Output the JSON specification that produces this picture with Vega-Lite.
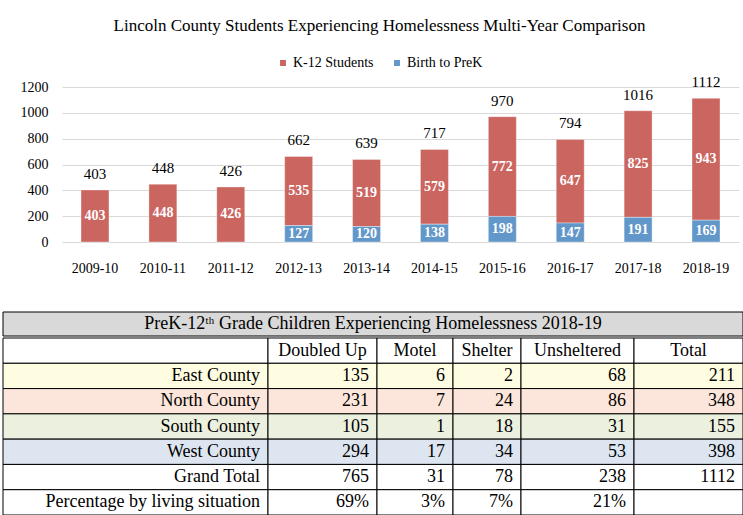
{
  "$schema": "https://vega.github.io/schema/vega-lite/v6.json",
  "padding": {"left": 2, "top": 17, "right": 0, "bottom": 0},
  "background": "white",
  "config": {
    "view": {"stroke": null},
    "font": "Liberation Serif",
    "text": {"font": "Liberation Serif"}
  },
  "datasets": {
    "bars": [
      {"year": "2009-10", "group": "K-12 Students", "value": 403},
      {"year": "2010-11", "group": "K-12 Students", "value": 448},
      {"year": "2011-12", "group": "K-12 Students", "value": 426},
      {"year": "2012-13", "group": "K-12 Students", "value": 535},
      {"year": "2012-13", "group": "Birth to PreK", "value": 127},
      {"year": "2013-14", "group": "K-12 Students", "value": 519},
      {"year": "2013-14", "group": "Birth to PreK", "value": 120},
      {"year": "2014-15", "group": "K-12 Students", "value": 579},
      {"year": "2014-15", "group": "Birth to PreK", "value": 138},
      {"year": "2015-16", "group": "K-12 Students", "value": 772},
      {"year": "2015-16", "group": "Birth to PreK", "value": 198},
      {"year": "2016-17", "group": "K-12 Students", "value": 647},
      {"year": "2016-17", "group": "Birth to PreK", "value": 147},
      {"year": "2017-18", "group": "K-12 Students", "value": 825},
      {"year": "2017-18", "group": "Birth to PreK", "value": 191},
      {"year": "2018-19", "group": "K-12 Students", "value": 943},
      {"year": "2018-19", "group": "Birth to PreK", "value": 169}
    ],
    "table": [
      {"row": "Header", "label": "", "doubled": "Doubled Up", "motel": "Motel", "shelter": "Shelter", "unsheltered": "Unsheltered", "total": "Total"},
      {"row": "East County", "label": "East County", "doubled": "135", "motel": "6", "shelter": "2", "unsheltered": "68", "total": "211"},
      {"row": "North County", "label": "North County", "doubled": "231", "motel": "7", "shelter": "24", "unsheltered": "86", "total": "348"},
      {"row": "South County", "label": "South County", "doubled": "105", "motel": "1", "shelter": "18", "unsheltered": "31", "total": "155"},
      {"row": "West County", "label": "West County", "doubled": "294", "motel": "17", "shelter": "34", "unsheltered": "53", "total": "398"},
      {"row": "Grand Total", "label": "Grand Total", "doubled": "765", "motel": "31", "shelter": "78", "unsheltered": "238", "total": "1112"},
      {"row": "Percentage", "label": "Percentage by living situation", "doubled": "69%", "motel": "3%", "shelter": "7%", "unsheltered": "21%", "total": ""}
    ],
    "tabletitle": [
      {"title": "PreK-12ᵗʰ Grade Children Experiencing Homelessness 2018-19"}
    ]
  },
  "resolve": {"scale": {"color": "independent", "fill": "independent"}},
  "spacing": 36,
  "vconcat": [
    {
      "width": 677,
      "height": 155,
      "title": {
        "text": "Lincoln County Students Experiencing Homelessness Multi-Year Comparison",
        "font": "Liberation Serif",
        "fontSize": 17,
        "fontWeight": "normal",
        "color": "black",
        "anchor": "middle",
        "dx": -21,
        "offset": 21
      },
      "data": {"name": "bars"},
      "transform": [
        {"stack": "value", "groupby": ["year"], "sort": [{"field": "group", "order": "ascending"}], "as": ["v0", "v1"]}
      ],
      "encoding": {
        "x": {
          "field": "year", "type": "ordinal",
          "scale": {"paddingInner": 0.588, "paddingOuter": 0.28},
          "axis": {"title": null, "labelAngle": 0, "labelFont": "Liberation Serif", "labelFontSize": 14, "labelColor": "black", "ticks": false, "domain": false, "labelPadding": 19}
        }
      },
      "layer": [
        {
          "mark": {"type": "bar", "stroke": "white", "strokeOpacity": 0.35, "strokeWidth": 1},
          "encoding": {
            "y": {"field": "v1", "type": "quantitative", "scale": {"domain": [0, 1200], "nice": false},
              "axis": {"title": null, "values": [0, 200, 400, 600, 800, 1000, 1200], "tickCount": 7, "format": "d", "labelOverlap": false, "labelFont": "Liberation Serif", "labelFontSize": 14, "labelColor": "black", "ticks": false, "domain": false, "gridColor": "#D9D9D9", "gridWidth": 1, "labelPadding": 14, "minExtent": 59}},
            "y2": {"field": "v0"},
            "color": {
              "field": "group", "type": "nominal",
              "scale": {"domain": ["K-12 Students", "Birth to PreK"], "range": ["#CB6560", "#6297CA"]},
              "legend": {"title": null, "orient": "none", "direction": "horizontal", "legendX": 214, "legendY": -31, "symbolType": "square", "symbolSize": 55, "labelFont": "Liberation Serif", "labelFontSize": 14, "labelColor": "black", "columnPadding": 16, "labelOffset": 3}
            }
          }
        },
        {
          "mark": {"type": "text", "color": "white", "fontWeight": "bold", "fontSize": 14, "font": "Liberation Serif", "baseline": "middle", "dy": {"expr": "datum.value * 155 / 2400"}},
          "encoding": {
            "y": {"field": "v1", "type": "quantitative",
              "axis": {"title": null, "values": [0, 200, 400, 600, 800, 1000, 1200], "tickCount": 7, "format": "d", "labelOverlap": false, "labelFont": "Liberation Serif", "labelFontSize": 14, "labelColor": "black", "ticks": false, "domain": false, "gridColor": "#D9D9D9", "gridWidth": 1, "labelPadding": 14, "minExtent": 59}},
            "text": {"field": "value", "type": "quantitative"}
          }
        },
        {
          "mark": {"type": "text", "color": "black", "fontSize": 15, "font": "Liberation Serif", "baseline": "bottom", "dy": -8},
          "encoding": {
            "y": {"aggregate": "sum", "field": "value", "type": "quantitative",
              "axis": {"title": null, "values": [0, 200, 400, 600, 800, 1000, 1200], "tickCount": 7, "format": "d", "labelOverlap": false, "labelFont": "Liberation Serif", "labelFontSize": 14, "labelColor": "black", "ticks": false, "domain": false, "gridColor": "#D9D9D9", "gridWidth": 1, "labelPadding": 14, "minExtent": 59}},
            "text": {"aggregate": "sum", "field": "value", "type": "quantitative"}
          }
        }
      ]
    },
    {
      "spacing": 0,
      "vconcat": [
        {
          "width": 681,
          "height": 24,
          "data": {"name": "tabletitle"},
          "layer": [
            {"mark": {"type": "rect", "fill": "#D9D9D9", "stroke": "black", "strokeWidth": 1},
             "encoding": {"x": {"datum": 0, "type": "quantitative", "scale": {"domain": [59, 740], "zero": false, "nice": false}, "axis": null}, "x2": {"datum": 740}}},
            {"mark": {"type": "text", "fontSize": 18, "font": "Liberation Serif", "color": "black", "baseline": "middle"},
             "encoding": {"x": {"datum": 370, "type": "quantitative"}, "text": {"field": "title"}}}
          ]
        },
        {
          "spacing": 0,
          "bounds": "flush",
          "hconcat": [
            {
              "width": 206, "height": 177,
              "data": {"name": "table"},
              "encoding": {"y": {"field": "row", "type": "nominal", "sort": ["Header", "East County", "North County", "South County", "West County", "Grand Total", "Percentage"], "scale": {"paddingInner": 0, "paddingOuter": 0}, "axis": null}},
              "layer": [
                {"mark": {"type": "rect", "stroke": "black", "strokeWidth": 1},
                 "encoding": {"x": {"datum": 0, "type": "quantitative", "scale": {"domain": [59, 265], "zero": false, "nice": false}, "axis": null}, "x2": {"datum": 265},
                   "fill": {"field": "row", "type": "nominal", "legend": null, "scale": {"domain": ["Header", "East County", "North County", "South County", "West County", "Grand Total", "Percentage"], "range": ["#FFFFFF", "#FFFDE1", "#FCE5DA", "#EBF0DF", "#DCE5F0", "#FFFFFF", "#FFFFFF"]}}}},
                {"mark": {"type": "text", "align": "right", "baseline": "middle", "fontSize": 18, "font": "Liberation Serif", "color": "black", "dx": -8},
                 "encoding": {"x": {"datum": 265, "type": "quantitative"}, "text": {"field": "label"}}}
              ]
            },
            {
              "width": 109, "height": 177,
              "data": {"name": "table"},
              "encoding": {"y": {"field": "row", "type": "nominal", "sort": ["Header", "East County", "North County", "South County", "West County", "Grand Total", "Percentage"], "scale": {"paddingInner": 0, "paddingOuter": 0}, "axis": null}},
              "layer": [
                {"mark": {"type": "rect", "stroke": "black", "strokeWidth": 1},
                 "encoding": {"x": {"datum": 0, "type": "quantitative", "scale": {"domain": [0, 1]}, "axis": null}, "x2": {"datum": 1},
                   "fill": {"field": "row", "type": "nominal", "legend": null, "scale": {"domain": ["Header", "East County", "North County", "South County", "West County", "Grand Total", "Percentage"], "range": ["#FFFFFF", "#FFFDE1", "#FCE5DA", "#EBF0DF", "#DCE5F0", "#FFFFFF", "#FFFFFF"]}}}},
                {"transform": [{"filter": "datum.row === 'Header'"}],
                 "mark": {"type": "text", "align": "center", "baseline": "middle", "fontSize": 18, "font": "Liberation Serif", "color": "black"},
                 "encoding": {"x": {"datum": 0.5, "type": "quantitative"}, "text": {"field": "doubled"}}},
                {"transform": [{"filter": "datum.row !== 'Header'"}],
                 "mark": {"type": "text", "align": "right", "baseline": "middle", "fontSize": 18, "font": "Liberation Serif", "color": "black", "dx": -8},
                 "encoding": {"x": {"datum": 1, "type": "quantitative"}, "text": {"field": "doubled"}}}
              ]
            },
            {
              "width": 76, "height": 177,
              "data": {"name": "table"},
              "encoding": {"y": {"field": "row", "type": "nominal", "sort": ["Header", "East County", "North County", "South County", "West County", "Grand Total", "Percentage"], "scale": {"paddingInner": 0, "paddingOuter": 0}, "axis": null}},
              "layer": [
                {"mark": {"type": "rect", "stroke": "black", "strokeWidth": 1},
                 "encoding": {"x": {"datum": 0, "type": "quantitative", "scale": {"domain": [0, 1]}, "axis": null}, "x2": {"datum": 1},
                   "fill": {"field": "row", "type": "nominal", "legend": null, "scale": {"domain": ["Header", "East County", "North County", "South County", "West County", "Grand Total", "Percentage"], "range": ["#FFFFFF", "#FFFDE1", "#FCE5DA", "#EBF0DF", "#DCE5F0", "#FFFFFF", "#FFFFFF"]}}}},
                {"transform": [{"filter": "datum.row === 'Header'"}],
                 "mark": {"type": "text", "align": "center", "baseline": "middle", "fontSize": 18, "font": "Liberation Serif", "color": "black"},
                 "encoding": {"x": {"datum": 0.5, "type": "quantitative"}, "text": {"field": "motel"}}},
                {"transform": [{"filter": "datum.row !== 'Header'"}],
                 "mark": {"type": "text", "align": "right", "baseline": "middle", "fontSize": 18, "font": "Liberation Serif", "color": "black", "dx": -8},
                 "encoding": {"x": {"datum": 1, "type": "quantitative"}, "text": {"field": "motel"}}}
              ]
            },
            {
              "width": 68, "height": 177,
              "data": {"name": "table"},
              "encoding": {"y": {"field": "row", "type": "nominal", "sort": ["Header", "East County", "North County", "South County", "West County", "Grand Total", "Percentage"], "scale": {"paddingInner": 0, "paddingOuter": 0}, "axis": null}},
              "layer": [
                {"mark": {"type": "rect", "stroke": "black", "strokeWidth": 1},
                 "encoding": {"x": {"datum": 0, "type": "quantitative", "scale": {"domain": [0, 1]}, "axis": null}, "x2": {"datum": 1},
                   "fill": {"field": "row", "type": "nominal", "legend": null, "scale": {"domain": ["Header", "East County", "North County", "South County", "West County", "Grand Total", "Percentage"], "range": ["#FFFFFF", "#FFFDE1", "#FCE5DA", "#EBF0DF", "#DCE5F0", "#FFFFFF", "#FFFFFF"]}}}},
                {"transform": [{"filter": "datum.row === 'Header'"}],
                 "mark": {"type": "text", "align": "center", "baseline": "middle", "fontSize": 18, "font": "Liberation Serif", "color": "black"},
                 "encoding": {"x": {"datum": 0.5, "type": "quantitative"}, "text": {"field": "shelter"}}},
                {"transform": [{"filter": "datum.row !== 'Header'"}],
                 "mark": {"type": "text", "align": "right", "baseline": "middle", "fontSize": 18, "font": "Liberation Serif", "color": "black", "dx": -8},
                 "encoding": {"x": {"datum": 1, "type": "quantitative"}, "text": {"field": "shelter"}}}
              ]
            },
            {
              "width": 113, "height": 177,
              "data": {"name": "table"},
              "encoding": {"y": {"field": "row", "type": "nominal", "sort": ["Header", "East County", "North County", "South County", "West County", "Grand Total", "Percentage"], "scale": {"paddingInner": 0, "paddingOuter": 0}, "axis": null}},
              "layer": [
                {"mark": {"type": "rect", "stroke": "black", "strokeWidth": 1},
                 "encoding": {"x": {"datum": 0, "type": "quantitative", "scale": {"domain": [0, 1]}, "axis": null}, "x2": {"datum": 1},
                   "fill": {"field": "row", "type": "nominal", "legend": null, "scale": {"domain": ["Header", "East County", "North County", "South County", "West County", "Grand Total", "Percentage"], "range": ["#FFFFFF", "#FFFDE1", "#FCE5DA", "#EBF0DF", "#DCE5F0", "#FFFFFF", "#FFFFFF"]}}}},
                {"transform": [{"filter": "datum.row === 'Header'"}],
                 "mark": {"type": "text", "align": "center", "baseline": "middle", "fontSize": 18, "font": "Liberation Serif", "color": "black"},
                 "encoding": {"x": {"datum": 0.5, "type": "quantitative"}, "text": {"field": "unsheltered"}}},
                {"transform": [{"filter": "datum.row !== 'Header'"}],
                 "mark": {"type": "text", "align": "right", "baseline": "middle", "fontSize": 18, "font": "Liberation Serif", "color": "black", "dx": -8},
                 "encoding": {"x": {"datum": 1, "type": "quantitative"}, "text": {"field": "unsheltered"}}}
              ]
            },
            {
              "width": 109, "height": 177,
              "data": {"name": "table"},
              "encoding": {"y": {"field": "row", "type": "nominal", "sort": ["Header", "East County", "North County", "South County", "West County", "Grand Total", "Percentage"], "scale": {"paddingInner": 0, "paddingOuter": 0}, "axis": null}},
              "layer": [
                {"mark": {"type": "rect", "stroke": "black", "strokeWidth": 1},
                 "encoding": {"x": {"datum": 0, "type": "quantitative", "scale": {"domain": [0, 1]}, "axis": null}, "x2": {"datum": 1},
                   "fill": {"field": "row", "type": "nominal", "legend": null, "scale": {"domain": ["Header", "East County", "North County", "South County", "West County", "Grand Total", "Percentage"], "range": ["#FFFFFF", "#FFFDE1", "#FCE5DA", "#EBF0DF", "#DCE5F0", "#FFFFFF", "#FFFFFF"]}}}},
                {"transform": [{"filter": "datum.row === 'Header'"}],
                 "mark": {"type": "text", "align": "center", "baseline": "middle", "fontSize": 18, "font": "Liberation Serif", "color": "black"},
                 "encoding": {"x": {"datum": 0.5, "type": "quantitative"}, "text": {"field": "total"}}},
                {"transform": [{"filter": "datum.row !== 'Header'"}],
                 "mark": {"type": "text", "align": "right", "baseline": "middle", "fontSize": 18, "font": "Liberation Serif", "color": "black", "dx": -8},
                 "encoding": {"x": {"datum": 1, "type": "quantitative"}, "text": {"field": "total"}}}
              ]
            }
          ]
        }
      ]
    }
  ]
}
